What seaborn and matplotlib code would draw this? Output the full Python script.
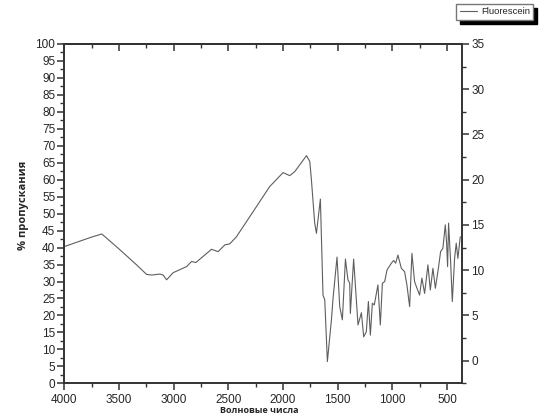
import numpy as np
import pandas as pd
import matplotlib
matplotlib.use("Agg")
import matplotlib.pyplot as plt
import seaborn as sns
from matplotlib.ticker import MultipleLocator

# Spectrum
wavenumber = [4000, 3750, 3658, 3628, 3507, 3339, 3248, 3202, 3126, 3096,
              3065, 3005, 2882, 2837, 2797, 2654, 2594, 2532, 2487, 2426,
              2243, 2122, 2000, 1939, 1893, 1786, 1756, 1741, 1711, 1695,
              1659, 1635, 1619, 1595, 1558, 1543, 1507, 1482, 1458, 1430,
              1407, 1391, 1385, 1355, 1315, 1284, 1263, 1239, 1220, 1202,
              1184, 1166, 1133, 1111, 1092, 1071, 1050, 1010, 989, 971,
              950, 919, 889, 868, 843, 822, 798, 776, 752, 731,
              706, 676, 654, 630, 608, 578, 560, 539, 517, 505,
              496, 487, 469, 453, 432, 417, 402, 380]
transmission = [40.3, 43.1, 44.0, 43.2, 39.8, 34.9, 32.1, 31.9, 32.2, 31.9,
                30.5, 32.6, 34.4, 35.9, 35.6, 39.5, 38.8, 40.8, 41.1, 43.2,
                52.1, 58.0, 62.1, 61.2, 62.4, 67.1, 65.4, 60.0, 47.2, 44.2,
                54.3, 26.0, 24.6, 6.4, 18.7, 25.1, 37.2, 22.6, 18.7, 36.6,
                30.5, 29.5, 20.6, 36.6, 17.2, 20.8, 13.7, 15.2, 24.1, 14.2,
                23.6, 23.1, 29.0, 17.2, 29.5, 30.0, 33.4, 35.4, 36.2, 35.4,
                37.8, 33.9, 32.9, 29.0, 22.6, 38.3, 30.0, 28.0, 26.0, 31.0,
                26.5, 34.9, 27.5, 33.9, 28.0, 34.4, 38.8, 39.8, 46.7, 41.3,
                34.4, 47.2, 36.3, 24.1, 36.8, 41.3, 36.8, 43.2]

left_ticks = list(range(0, 101, 5))
right_ticks = list(range(0, 36, 5))
x_ticks = [4000, 3500, 3000, 2500, 2000, 1500, 1000, 500]

df = pd.DataFrame({"wn": wavenumber, "T": transmission})

sns.set_style("ticks")
plt.rcParams["font.family"] = ["Liberation Sans", "DejaVu Sans"]

fig = plt.figure(figsize=(5.39, 4.19), dpi=100)
ax = fig.add_axes([0.1193, 0.0852, 0.7373, 0.8098])

sns.lineplot(data=df, x="wn", y="T", ax=ax, color="#5e5e5e", linewidth=0.8,
             label="Fluorescein", estimator=None)

ax.set_xlim(4000, 367)
ax.set_ylim(0, 100)
ax.set_xticks(x_ticks)
ax.xaxis.set_minor_locator(MultipleLocator(250))
ax.set_yticks(left_ticks)
ax.yaxis.set_minor_locator(MultipleLocator(2.5))

spine_c = "#333333"
for s in ax.spines.values():
    s.set_color(spine_c)
    s.set_linewidth(1.2)

ax.tick_params(axis="both", which="major", length=5, width=1.1, color=spine_c,
               labelsize=8.5, pad=1.5, direction="out")
ax.tick_params(axis="both", which="minor", length=3, width=1.0, color=spine_c,
               direction="out")
ax.tick_params(axis="x", pad=2.5)

# top axis with inward ticks
top = ax.secondary_xaxis("top")
top.set_xticks(x_ticks)
top.xaxis.set_minor_locator(MultipleLocator(250))
top.tick_params(which="major", direction="in", length=5, width=1.1, color=spine_c,
                labeltop=False)
top.tick_params(which="minor", direction="in", length=3, width=1.0, color=spine_c)
top.spines["top"].set_color(spine_c)
top.spines["top"].set_linewidth(1.2)

# right axis
ax2 = ax.twinx()
ax2.set_ylim(-2.5, 35)
ax2.set_yticks(right_ticks)
ax2.yaxis.set_minor_locator(MultipleLocator(2.5))
ax2.tick_params(which="major", length=5, width=1.1, color=spine_c, labelsize=8.5,
                pad=2, direction="out")
ax2.tick_params(which="minor", length=3, width=1.0, color=spine_c, direction="out")
for s in ax2.spines.values():
    s.set_color(spine_c)
    s.set_linewidth(1.2)

ax.set_xlabel("Волновые числа", fontsize=6.5, fontweight="bold",
              family=["Open Sans", "DejaVu Sans"])
ax.xaxis.set_label_coords(0.49, -0.066)
ax.set_ylabel("% пропускания", fontsize=8, fontweight="bold",
              family=["Open Sans", "DejaVu Sans"])
ax.yaxis.set_label_coords(-0.088, 0.525)

ax.legend(loc="upper right", bbox_to_anchor=(0.989, 0.990),
          bbox_transform=fig.transFigure, fontsize=6.8, frameon=True,
          fancybox=False, edgecolor="#777777", framealpha=1,
          shadow={"ox": 3, "oy": -3, "color": "black", "alpha": 1},
          handlelength=1.8, handletextpad=0.45, borderpad=0.35, borderaxespad=0)

fig.savefig("out.png", dpi=100)
